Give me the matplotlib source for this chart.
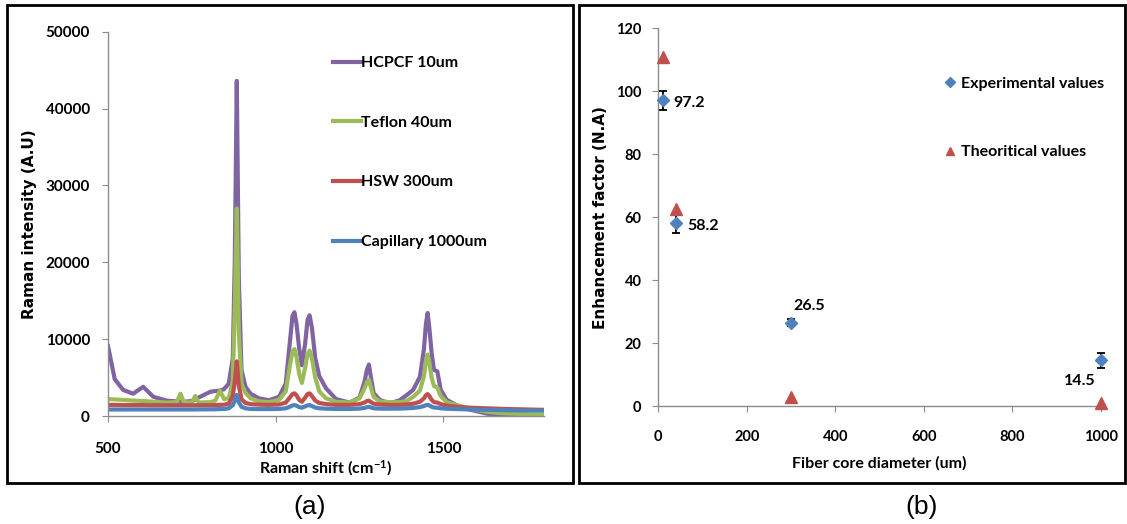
import matplotlib.pyplot as plt
import numpy as np
from matplotlib.patches import Rectangle

plt.rcParams['font.family'] = ['Lato', 'DejaVu Sans']
plt.rcParams['font.weight'] = 'bold'
plt.rcParams['axes.labelweight'] = 'bold'
plt.rcParams['mathtext.default'] = 'regular'

# (a) Raman spectra
shift = [500, 520, 545, 575, 605, 635, 675, 705, 716, 726, 750, 760, 770, 805, 820,
         834, 846, 860, 872, 878, 884, 890, 898, 910, 925, 950, 980, 1010, 1030, 1042,
         1050, 1056, 1062, 1070, 1078, 1088, 1095, 1101, 1108, 1118, 1130, 1150, 1180,
         1220, 1250, 1265, 1272, 1278, 1284, 1292, 1310, 1340, 1370, 1390, 1410, 1430,
         1442, 1448, 1453, 1458, 1465, 1472, 1482, 1492, 1510, 1540, 1580, 1630, 1680,
         1740, 1800]
hcpcf = [9100, 4800, 3400, 2900, 3800, 2500, 2000, 1900, 1850, 1850, 1950, 2100, 2400,
         3150, 3250, 3300, 3500, 4200, 7500, 20000, 43600, 18000, 6000, 3800, 2900, 2300,
         2050, 2500, 4200, 9500, 13000, 13500, 12000, 8800, 6600, 9500, 12500, 13100,
         11500, 7500, 5200, 3600, 2200, 1750, 2400, 4500, 6000, 6700, 5000, 3000, 2100,
         1650, 2050, 2700, 3400, 5100, 8700, 12000, 13400, 11500, 8200, 6000, 5800, 3400,
         2100, 1400, 820, 300, 90, 20, 0]
teflon = [2200, 2150, 2100, 2000, 1950, 1850, 1750, 1800, 2900, 1800, 1750, 2600, 1750,
          1800, 2000, 3300, 2200, 2300, 4500, 14000, 27000, 11000, 4200, 3000, 2300, 1900,
          1800, 2100, 3200, 6500, 8400, 8700, 7700, 5500, 4300, 6300, 8100, 8500, 7500,
          5000, 3200, 2300, 1850, 1750, 2300, 3600, 4400, 4700, 3700, 2500, 1900, 1800,
          1800, 1950, 2500, 3300, 5200, 7200, 8000, 7000, 5000, 3900, 3700, 2600, 1800,
          1400, 950, 550, 350, 250, 150]
hsw = [1450, 1450, 1430, 1420, 1420, 1400, 1400, 1400, 1400, 1400, 1400, 1400, 1400,
       1400, 1420, 1450, 1480, 1600, 2600, 4500, 7100, 4000, 2200, 1700, 1550, 1480, 1450,
       1500, 1750, 2400, 2850, 2950, 2700, 2100, 1850, 2400, 2850, 2950, 2600, 2000, 1700,
       1550, 1450, 1450, 1550, 1750, 1950, 2000, 1800, 1600, 1500, 1450, 1450, 1500, 1600,
       1850, 2300, 2700, 2850, 2600, 2100, 1800, 1750, 1550, 1350, 1200, 1080, 1000, 920,
       860, 800]
capillary = [850, 850, 850, 850, 850, 850, 850, 850, 850, 850, 850, 850, 860, 870, 880,
             900, 920, 1000, 1400, 2000, 2750, 1800, 1200, 1000, 920, 900, 900, 920, 1000,
             1200, 1380, 1420, 1350, 1150, 1080, 1250, 1380, 1420, 1300, 1100, 1000, 950,
             920, 920, 960, 1050, 1150, 1200, 1100, 1000, 960, 950, 960, 1000, 1050, 1150,
             1300, 1400, 1450, 1380, 1200, 1100, 1080, 1000, 950, 900, 850, 800, 760, 720,
             700]
spectra_labels = ['HCPCF 10um', 'Teflon 40um', 'HSW 300um', 'Capillary 1000um']

# (b) enhancement factor vs fiber core diameter
diameter = [10, 40, 300, 1000]
experimental = [97.2, 58.2, 26.5, 14.5]
exp_err = [3.0, 3.2, 1.0, 2.4]
theoretical = [110.8, 62.6, 3.0, 1.0]

W, H = 1127, 524
fig = plt.figure(figsize=(W / 100, H / 100), dpi=100)


def box(x0, y0, x1, y1):
    # pixel box (top-left origin) -> figure fraction rect
    return [x0 / W, 1 - y1 / H, (x1 - x0) / W, (y1 - y0) / H]


grey = '#8c8c8c'

# ---- panel (a)
ax1 = fig.add_axes(box(108, 31.7, 544, 416))
colors = ['#8064A2', '#9BBB59', '#C0504D', '#4F81BD']
for ys, c, lab in zip([hcpcf, teflon, hsw, capillary], colors, spectra_labels):
    ax1.plot(shift, ys, color=c, lw=3, label=lab, solid_joinstyle='round')
ax1.set_xlim(500, 1800)
ax1.set_ylim(0, 50000)
ax1.set_xticks([500, 1000, 1500])
ax1.set_yticks(np.arange(0, 50001, 10000))
ax1.tick_params(axis='y', labelsize=11, length=4, color=grey, pad=9)
ax1.tick_params(axis='x', labelsize=11, length=4, color=grey, pad=15)
ax1.set_xlabel('Raman shift (cm$^{-1}$)', fontsize=11.5, labelpad=1)
ax1.set_ylabel('Raman intensity (A.U)', fontsize=11, family='DejaVu Sans',
               fontweight='bold', labelpad=6)
ax1.legend(loc='upper left', bbox_to_anchor=(0.515, 0.937), frameon=False,
           fontsize=11.5, handlelength=1.8, handletextpad=0.0, labelspacing=2.85,
           borderpad=0, borderaxespad=0)

# ---- panel (b)
ax2 = fig.add_axes(box(658.2, 28.3, 1101, 406))
ax2.errorbar(diameter, experimental, yerr=exp_err, fmt='none', ecolor='black',
             elinewidth=1.3, capsize=3, capthick=1.3, clip_on=False, zorder=3)
ax2.plot(diameter, experimental, 'D', color='#4F81BD', ms=6.3, ls='none',
         label='Experimental values', clip_on=False, zorder=4)
ax2.plot(diameter, theoretical, '^', color='#C0504D', ms=8.5, ls='none',
         label='Theoritical values', clip_on=False, zorder=4)
offsets = [(8, -2), (8, -2), (2, 12), (-4, -15)]
aligns = ['left', 'left', 'left', 'right']
for d, v, off, ha in zip(diameter, experimental, offsets, aligns):
    ax2.annotate(f'{v:.1f}', (d, v), xytext=off, textcoords='offset points',
                 ha=ha, va='center', fontsize=11.5)
ax2.set_xlim(0, 1000)
ax2.set_ylim(0, 120)
ax2.set_xticks(np.arange(0, 1001, 200))
ax2.set_yticks(np.arange(0, 121, 20))
ax2.tick_params(axis='y', labelsize=10.5, length=4, color=grey, pad=8)
ax2.tick_params(axis='x', labelsize=10.5, length=4, color=grey, pad=13)
ax2.set_xlabel('Fiber core diameter (um)', fontsize=11.5, labelpad=9)
ax2.set_ylabel('Enhancement factor (N.A)', fontsize=11, family='DejaVu Sans',
               fontweight='bold', labelpad=6)
ax2.legend(loc='upper left', bbox_to_anchor=(0.645, 0.872), frameon=False,
           fontsize=11.5, handlelength=0.8, handletextpad=0.3, labelspacing=3.4,
           borderpad=0, borderaxespad=0, numpoints=1, markerscale=0.75)

for ax in (ax1, ax2):
    for s in ('top', 'right'):
        ax.spines[s].set_visible(False)
    for s in ('left', 'bottom'):
        ax.spines[s].set_color(grey)
        ax.spines[s].set_linewidth(1)

# frames around the two panels
fig.patches.append(Rectangle((6.7 / W, 1 - 482.7 / H), 566 / W, 477.7 / H,
                             transform=fig.transFigure, fill=False, ec='black', lw=2))
fig.patches.append(Rectangle((579.3 / W, 1 - 482.7 / H), 546 / W, 477.7 / H,
                             transform=fig.transFigure, fill=False, ec='black', lw=2))

fig.text(310 / W, 1 - 507 / H, '(a)', fontsize=19, family='Liberation Sans',
         fontweight='normal', ha='center', va='center')
fig.text(922 / W, 1 - 507 / H, '(b)', fontsize=19, family='Liberation Sans',
         fontweight='normal', ha='center', va='center')

fig.savefig('out.png', dpi=100)
